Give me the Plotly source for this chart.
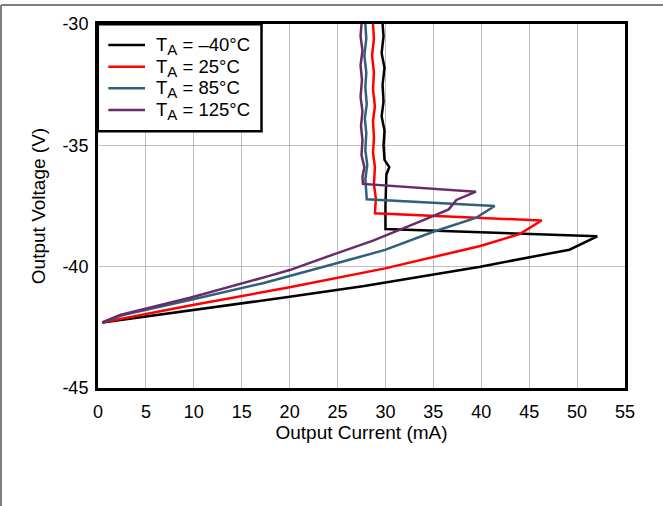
import plotly.graph_objects as go

# Output current (mA) vs output voltage (V) for each temperature
i_m40 = [29.7, 29.8, 29.6, 29.9, 29.7, 29.8, 29.6, 29.9, 29.8, 29.9, 30.4, 30.1, 30.0, 30.0,
         52.1, 49.2, 39.9, 27.8, 20.0, 0.45]
v_m40 = [-30.0, -30.5, -31.2, -31.8, -32.5, -33.2, -33.8, -34.4, -35.0, -35.6, -35.9, -36.2, -37.5, -38.45,
         -38.75, -39.3, -40.0, -40.8, -41.24, -42.3]

i_25 = [28.7, 28.8, 28.6, 28.8, 28.7, 28.9, 28.7, 28.8, 28.7, 28.9, 28.8, 29.0, 28.9,
        46.3, 44.05, 39.9, 29.96, 20.0, 9.6, 0.45]
v_25 = [-30.0, -30.6, -31.3, -32.0, -32.7, -33.4, -34.0, -34.7, -35.3, -35.9, -36.6, -37.2, -37.8,
        -38.1, -38.65, -39.15, -40.07, -40.85, -41.6, -42.3]

i_85 = [27.9, 28.0, 27.8, 28.0, 27.9, 28.05, 27.85, 28.0, 27.9, 28.1, 27.9, 28.0, 28.05,
        41.4, 39.5, 35.0, 29.96, 24.9, 17.2, 9.6, 2.6, 0.45]
v_85 = [-30.0, -30.6, -31.3, -32.0, -32.6, -33.3, -33.9, -34.5, -35.2, -35.8, -36.4, -36.9, -37.22,
        -37.5, -37.98, -38.56, -39.31, -39.86, -40.68, -41.37, -41.99, -42.3]

i_125 = [27.5, 27.4, 27.6, 27.4, 27.55, 27.4, 27.6, 27.45, 27.6, 27.5, 27.8, 27.6, 27.65,
         39.45, 37.4, 36.6, 33.96, 28.7, 24.9, 20.0, 17.6, 9.6, 2.3, 0.45]
v_125 = [-30.0, -30.5, -31.1, -31.7, -32.3, -33.0, -33.6, -34.2, -34.8, -35.4, -35.9, -36.3, -36.59,
         -36.91, -37.25, -37.64, -38.08, -38.93, -39.45, -40.14, -40.41, -41.28, -41.99, -42.3]

temps = ["\u201340", "25", "85", "125"]
colors = ["#000000", "#FF0000", "#31607A", "#6A2C68"]
series = [(i_m40, v_m40), (i_25, v_25), (i_85, v_85), (i_125, v_125)]

x_ticks = list(range(0, 56, 5))
y_ticks = [-45, -40, -35, -30]

FONT = "Liberation Sans, Arial, sans-serif"

W, H = 663, 506
ML, MR, MT, MB = 98, 38, 24, 118
PW, PH = W - ML - MR, H - MT - MB


def px(x):
    return (x - ML) / PW


def py(y):
    return (H - MB - y) / PH


fig = go.Figure()
for (xs, ys), t, c in zip(series, temps, colors):
    fig.add_trace(go.Scatter(x=xs, y=ys, mode="lines",
                             name="T<sub>A</sub> = %s\u00b0C" % t,
                             line=dict(color=c, width=2.5), showlegend=False))

# legend box (drawn manually to match spacing)
shapes = [
    dict(type="line", xref="paper", yref="paper", x0=px(1), x1=px(700), y0=py(5), y1=py(5),
         line=dict(color="#7F7F7F", width=2)),
    dict(type="line", xref="paper", yref="paper", x0=px(1), x1=px(1), y0=py(5), y1=py(520),
         line=dict(color="#7F7F7F", width=2)),
    dict(type="rect", xref="paper", yref="paper", x0=px(97.8), x1=px(261.5), y0=py(24.2), y1=py(131.3),
         line=dict(color="black", width=2.5), fillcolor="white", layer="above"),
]
annotations = []
row_y = [45, 66.7, 88.3, 110]
for t, c, ry in zip(temps, colors, row_y):
    shapes.append(dict(type="line", xref="paper", yref="paper", x0=px(108.3), x1=px(145),
                       y0=py(ry), y1=py(ry), line=dict(color=c, width=2.5), layer="above"))
    annotations.append(dict(xref="paper", yref="paper", x=px(153.5), y=py(ry + 1),
                            xanchor="left", yanchor="middle", showarrow=False,
                            text="T<sub><span style='font-size:15px'>A</span></sub> = %s\u00b0C" % t,
                            font=dict(family=FONT, size=18.5, color="black")))

fig.update_layout(
    width=W, height=H,
    margin=dict(l=ML, r=MR, t=MT, b=MB),
    paper_bgcolor="white", plot_bgcolor="white",
    font=dict(family=FONT, color="black", size=18),
    showlegend=False,
    xaxis=dict(range=[0, 55], tickvals=x_ticks, ticktext=[str(t) for t in x_ticks],
               showgrid=True, gridcolor="#BFBFBF", gridwidth=1, zeroline=False,
               showline=True, linecolor="black", linewidth=3, mirror=True,
               ticks="", tickfont=dict(size=18), ticklabelstandoff=5,
               title=dict(text="Output Current (mA)", font=dict(size=19), standoff=3)),
    yaxis=dict(range=[-45, -30], tickvals=y_ticks, ticktext=[str(t) for t in y_ticks],
               showgrid=True, gridcolor="#BFBFBF", gridwidth=1, zeroline=False,
               showline=True, linecolor="black", linewidth=3, mirror=True,
               ticks="", tickfont=dict(size=18), ticklabelstandoff=3,
               title=dict(text="Output Voltage (V)", font=dict(size=19), standoff=12)),
    shapes=shapes,
    annotations=annotations,
)

fig.write_html("out.html")
